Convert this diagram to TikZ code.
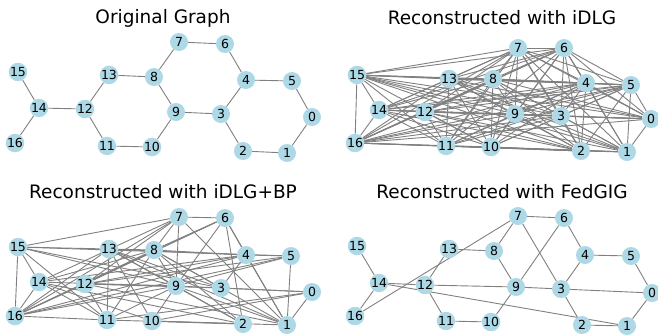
\documentclass[tikz,border=0pt]{standalone}
\usepackage{fontspec}
\setmainfont{DejaVu Sans}
\usetikzlibrary{backgrounds}
\definecolor{nodeblue}{RGB}{173,216,230}
\definecolor{edgegray}{RGB}{128,128,128}
\tikzset{
  vertex/.style={circle, fill=nodeblue, inner sep=0pt, minimum size=18pt,
    font=\fontsize{12.5}{12.5}\selectfont},
  link/.style={draw=edgegray, line width=0.9pt},
  paneltitle/.style={font=\fontsize{18.5}{18.5}\selectfont}
}
\begin{document}
\begin{tikzpicture}[x=1pt,y=-1pt]
\useasboundingbox (0,0) rectangle (658,335);

% titles
\node[paneltitle] (ta) at (163,18) {Original Graph};
\node[paneltitle] (tb) at (502,18) {Reconstructed with iDLG};
\node[paneltitle] (tc) at (163,192) {Reconstructed with iDLG+BP};
\node[paneltitle] (td) at (502,192) {Reconstructed with FedGIG};

% original graph
\foreach \n/\x/\y in {0/312/117, 1/287/153, 2/243/151, 3/221/114, 4/246/80,
  5/292/81, 6/225/44, 7/179/42, 8/154/77, 9/176/112, 10/152/147, 11/107/146,
  12/85/109, 13/109/75, 14/39/108, 15/18/72, 16/15/143}
  \node[vertex] (a\n) at (\x,\y) {\n};
\begin{scope}[on background layer]
\foreach \u/\v in {7/6, 6/4, 4/5, 5/0, 0/1, 1/2, 2/3, 3/4, 3/9, 9/8, 8/7, 8/13,
  13/12, 12/11, 11/10, 10/9, 12/14, 14/15, 14/16}
  \draw[link] (a\u) -- (a\v);
\end{scope}

% iDLG
\foreach \n/\x/\y in {0/651/119, 1/627/152, 2/581/151, 3/561/116, 4/586/83,
  5/631/85, 6/564/48, 7/518/48, 8/493/79, 9/515/114, 10/491/147, 11/446/146,
  12/425/112, 13/449/79, 14/379/110, 15/357/75, 16/355/143}
  \node[vertex] (b\n) at (\x,\y) {\n};
\begin{scope}[on background layer]
\foreach \u/\vs in {15/{16,14,7,6,13,8,4,5,9,3,0,11,10,2,1},
  16/{14,13,8,7,6,4,5,12,9,3,0,11,10,2,1},
  14/{12,13,8,7,6,4,5,9,3,0,11,10,2},
  13/{11,10,9,3,2,1,0,8,4,5,7,6},
  12/{8,7,6,4,5,9,3,0,11,10,2,1},
  8/{7,6,4,5,9,3,0,11,10,2,1},
  7/{6,4,5,9,3,0,11,10,2,1},
  6/{4,5,9,3,0,11,10,2,1},
  4/{5,9,3,0,11,10,2,1},
  5/{0,1,2,9,3,11,10},
  9/{3,0,11,10,2,1},
  3/{0,11,10,2,1},
  11/{10,2,1}, 10/{2,1}, 2/{1}, 0/{1}}
  \foreach \v in \vs
    \draw[link] (b\u) -- (b\v);
\end{scope}

% iDLG+BP
\foreach \n/\x/\y in {0/312/292, 1/287/325, 2/243/324, 3/221/288, 4/246/255,
  5/291/256, 6/225/218, 7/179/217, 8/154/250, 9/176/286, 10/152/321, 11/107/320,
  12/85/284, 13/109/249, 14/39/282, 15/18/247, 16/15/316}
  \node[vertex] (c\n) at (\x,\y) {\n};
\begin{scope}[on background layer]
\foreach \u/\vs in {15/{16,14,7,13,5,11,9,3},
  14/{16,8,7,4,9,11,10,2},
  16/{11,12,13,8,7,4,5,6,9},
  13/{11,10,9,3,2,1,8,4},
  12/{7,6,8,4,5,9,11,1,3},
  7/{6,9,8,1},
  8/{6,4,9,2,3,1,11},
  6/{2,9,4,1},
  4/{5,1,3}, 5/{1,9},
  9/{0,2,10,11,1},
  0/{1,3,11,10},
  11/{2}, 10/{2,1}}
  \foreach \v in \vs
    \draw[link] (c\u) -- (c\v);
\end{scope}

% FedGIG
\foreach \n/\x/\y in {0/652/293, 1/627/326, 2/582/325, 3/561/289, 4/585/255,
  5/631/256, 6/564/218, 7/518/216, 8/494/251, 9/516/287, 10/491/322, 11/446/321,
  12/425/285, 13/449/249, 14/379/283, 15/357/246, 16/355/316}
  \node[vertex] (d\n) at (\x,\y) {\n};
\begin{scope}[on background layer]
\foreach \u/\v in {7/6, 7/8, 7/3, 7/16, 6/4, 6/9, 4/5, 4/3, 5/0, 0/1, 0/3, 3/9,
  3/2, 2/1, 14/1, 14/12, 12/9, 12/13, 12/11, 11/10, 10/9, 9/8, 8/13, 15/14, 14/16}
  \draw[link] (d\u) -- (d\v);
\end{scope}
\end{tikzpicture}
\end{document}
